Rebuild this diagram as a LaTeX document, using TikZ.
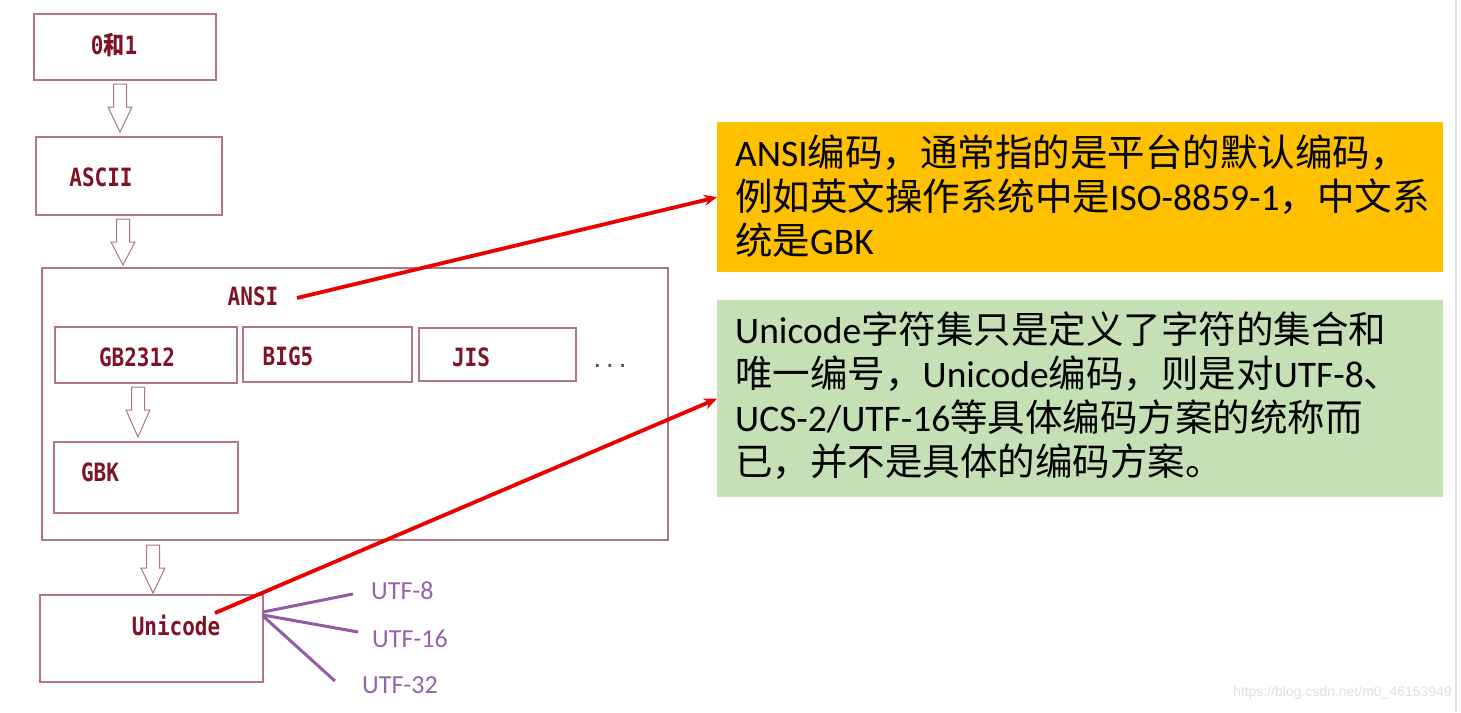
\documentclass[tikz,border=0pt]{standalone}
\usepackage{fontspec}
\setmainfont{Carlito}
\newfontfamily\cjk{Noto Sans CJK SC}
\newfontfamily\labelmono{DejaVu Sans Mono}
\newfontfamily\wmfont{Liberation Sans}
\usetikzlibrary{arrows.meta}
\definecolor{boxc}{RGB}{176,120,130}
\definecolor{labc}{RGB}{128,18,38}
\definecolor{orangec}{RGB}{255,192,0}
\definecolor{greenc}{RGB}{197,224,180}
\definecolor{purplec}{RGB}{146,92,164}
\definecolor{purpletext}{RGB}{150,100,170}
\definecolor{redc}{RGB}{235,0,0}
\newcommand\hollowarrow[3]{%
  \draw[harrow] ({#1-6.5},#2) -- ({#1+6.5},#2) -- ({#1+6.5},{#2+23}) -- ({#1+12},{#2+23})
    -- (#1,#3) -- ({#1-12},{#2+23}) -- ({#1-6.5},{#2+23}) -- cycle;}
\begin{document}
\begin{tikzpicture}[x=1pt,y=-1pt,
  box/.style={draw=boxc, line width=1.3pt, inner sep=0pt},
  lab/.style={text=labc, inner sep=0pt, font=\labelmono\bfseries\fontsize{21}{21}\selectfont},
  harrow/.style={draw=boxc!80!gray, line width=1pt, fill=white},
  redarrow/.style={draw=redc, line width=3.8pt, -{Stealth[length=13pt,width=11pt]}},
  purpleline/.style={draw=purplec, line width=3pt},
  utf/.style={text=purpletext, inner sep=0pt, font=\fontsize{26}{26}\selectfont},
  note/.style={inner sep=0pt, anchor=north west, align=left, text=black,
    font=\fontsize{37.5}{44}\selectfont}
]
\useasboundingbox (0,0) rectangle (1461,712);
\fill[white] (0,0) rectangle (1461,712);
\draw[line width=2pt, color={rgb,255:red,214;green,226;blue,238}] (1456,0) -- (1456,712);

% left boxes
\node[box, minimum width=182pt, minimum height=66pt] (b01) at (125,47) {};
\node[lab] (t01) at (114,45) {\scalebox{1}[1.2]{0{\cjk\bfseries 和}1}};
\node[box, minimum width=186pt, minimum height=78pt] (ascii) at (129,176) {};
\node[lab] (tascii) at (101,177) {\scalebox{1}[1.2]{ASCII}};
\node[box, minimum width=626pt, minimum height=272pt] (ansi) at (355,404) {};
\node[lab] (tansi) at (253,296) {\scalebox{1}[1.2]{ANSI}};
\node[box, minimum width=182pt, minimum height=56pt] (gb2312) at (146,355) {};
\node[lab] (tgb2312) at (137,357) {\scalebox{1}[1.2]{GB2312}};
\node[box, minimum width=169pt, minimum height=55pt] (big5) at (327.5,354.5) {};
\node[lab] (tbig5) at (288,356) {\scalebox{1}[1.2]{BIG5}};
\node[box, minimum width=157pt, minimum height=53pt] (jis) at (497.5,354.5) {};
\node[lab] (tjis) at (471,357) {\scalebox{1}[1.2]{JIS}};
\node[inner sep=0pt, text=black!70, font=\labelmono\fontsize{21}{21}\selectfont] (dots) at (610,366) {...};
\node[box, minimum width=184pt, minimum height=71pt] (gbk) at (146,477.5) {};
\node[lab] (tgbk) at (100,472) {\scalebox{1}[1.2]{GBK}};
\node[box, minimum width=223pt, minimum height=87pt] (uni) at (151.5,638.5) {};
\node[lab] (tuni) at (176,625) {\scalebox{1}[1.2]{Unicode}};

% hollow arrows
\hollowarrow{120}{84}{132}
\hollowarrow{123}{219}{265}
\hollowarrow{138}{387}{437}
\hollowarrow{153}{545}{593}

% UTF branches
\coordinate (u8) at (353,594);
\coordinate (u16) at (358,632);
\coordinate (u32) at (335,681);
\draw[purpleline] (263,612) -- (u8);
\draw[purpleline] (263,615) -- (u16);
\draw[purpleline] (263,616) -- (u32);
\node[utf, anchor=west] (tu8) at (371,591) {UTF-8};
\node[utf, anchor=west] (tu16) at (372,639) {UTF-16};
\node[utf, anchor=west] (tu32) at (362,685) {UTF-32};

% notes
\node[fill=orangec, minimum width=726pt, minimum height=150pt, anchor=north west, inner sep=0pt] (orange) at (717,122) {};
\node[note] (torange) at (735,135) {ANSI{\cjk 编码，通常指的是平台的默认编码，}\\{\cjk 例如英文操作系统中是}ISO-8859-1{\cjk ，中文系}\\{\cjk 统是}GBK};
\node[fill=greenc, minimum width=726pt, minimum height=197pt, anchor=north west, inner sep=0pt] (green) at (717,300) {};
\node[note] (tgreen) at (735,312) {Unicode{\cjk 字符集只是定义了字符的集合和}\\{\cjk 唯一编号，}Unicode{\cjk 编码，则是对}UTF-8{\cjk 、}\\UCS-2/UTF-16{\cjk 等具体编码方案的统称而}\\{\cjk 已，并不是具体的编码方案。}};

% red arrows
\coordinate (ansiout) at (297,298);
\coordinate (uniout) at (215,613);
\draw[redarrow] (ansiout) -- (orange.west);
\draw[redarrow] (uniout) -- (green.west);

% watermark
\node[inner sep=0pt, anchor=east, text=black!12, font=\wmfont\fontsize{14}{14}\selectfont] (wm) at (1452,693) {https://blog.csdn.net/m0\_46153949};
\end{tikzpicture}
\end{document}
